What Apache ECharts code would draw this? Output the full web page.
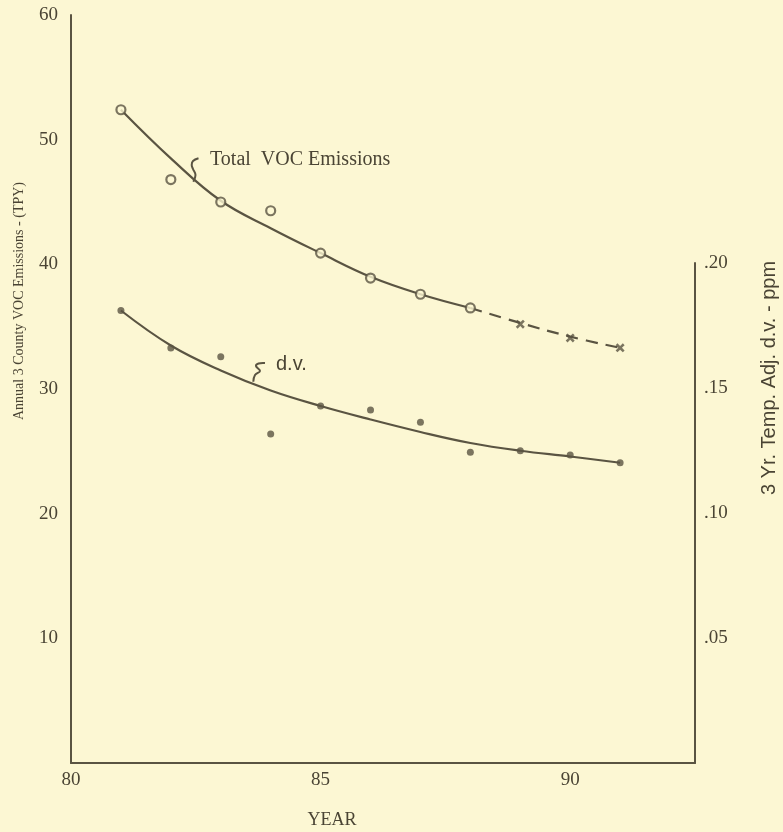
<!DOCTYPE html>
<html>
<head>
<meta charset="utf-8">
<script src="https://cdn.jsdelivr.net/npm/echarts@6/dist/echarts.min.js"></script>
<style>
html,body{margin:0;padding:0;background:#fcf7d3;}
#main{width:783px;height:832px;}
</style>
</head>
<body>
<div id="main"></div>
<script>
// ---- data ----
var years = [81, 82, 83, 84, 85, 86, 87, 88, 89, 90, 91];
// Total VOC emissions (TPY), observed 81-88, projected 89-91
var vocObsYears = [81, 82, 83, 84, 85, 86, 87, 88];
var vocObs = [52.4, 46.8, 45.0, 44.3, 40.9, 38.9, 37.6, 36.5];
var vocProjYears = [89, 90, 91];
var vocProj = [35.2, 34.1, 33.3];
// fitted curve for total VOC (solid part 81-88, dashed part 88-91)
var vocFitYears = [81, 82, 83, 84, 85, 86, 87, 88];
var vocFit = [52.4, 48.5, 45.1, 42.9, 40.9, 39.0, 37.6, 36.5];
var vocFitDashYears = [88, 89, 90, 91];
var vocFitDash = [36.5, 35.3, 34.2, 33.3];
// 3 yr temp adjusted design value (ppm)
var dvObs = [0.181, 0.166, 0.1625, 0.1316, 0.1428, 0.1412, 0.1363, 0.1243, 0.1249, 0.1232, 0.1201];
var dvFit = [0.181, 0.167, 0.157, 0.149, 0.1428, 0.1374, 0.1324, 0.128, 0.1249, 0.1226, 0.1201];
var xTicks = [80, 85, 90];
var leftTicks = [10, 20, 30, 40, 50, 60];
var rightTicks = [0.05, 0.10, 0.15, 0.20];

function pairs(xs, ys){ return xs.map(function(x,i){ return [x, ys[i]]; }); }

var bg = '#fcf7d3';
var ink = '#5a5442';
var txt = '#4a4434';
var serif = '"Liberation Serif", "DejaVu Serif", serif';
var sans = '"Liberation Sans", "DejaVu Sans", sans-serif';

var chart = echarts.init(document.getElementById('main'), null, {renderer:'canvas'});
var xMarker = 'path://M0,2L2,0L5,3L8,0L10,2L7,5L10,8L8,10L5,7L2,10L0,8L3,5Z';

chart.setOption({
  backgroundColor: bg,
  animation: false,
  grid: [
    {left: 71, right: 88, top: 15, bottom: 69},
    {left: 71, right: 88, top: 263, bottom: 69}
  ],
  xAxis: [
    {type:'value', gridIndex:0, min:80, max:92.5, interval:5,
     axisLine:{show:true, lineStyle:{color:ink, width:2}},
     axisTick:{show:false}, splitLine:{show:false},
     axisLabel:{showMaxLabel:false, color:txt, fontFamily:serif, fontSize:19, margin:8,
       formatter:function(v){ return xTicks.indexOf(v) >= 0 ? String(v) : ''; }}},
    {type:'value', gridIndex:1, min:80, max:92.5, show:false}
  ],
  yAxis: [
    {type:'value', gridIndex:0, min:0, max:60, interval:10, position:'left',
     axisLine:{show:true, lineStyle:{color:ink, width:2}},
     axisTick:{show:false}, splitLine:{show:false},
     axisLabel:{color:txt, fontFamily:serif, fontSize:19, margin:13,
       formatter:function(v){ return leftTicks.indexOf(v) >= 0 ? String(v) : ''; }}},
    {type:'value', gridIndex:1, min:0, max:0.2, interval:0.05, position:'right',
     axisLine:{show:true, lineStyle:{color:ink, width:2}},
     axisTick:{show:false}, splitLine:{show:false},
     axisLabel:{color:txt, fontFamily:serif, fontSize:19, margin:9,
       formatter:function(v){
         for (var i=0;i<rightTicks.length;i++){ if (Math.abs(rightTicks[i]-v) < 1e-9) return rightTicks[i].toFixed(2).replace(/^0/,''); }
         return '';
       }}}
  ],
  series: [
    {type:'line', xAxisIndex:0, yAxisIndex:0, data:pairs(vocFitYears, vocFit), smooth:0.4,
     showSymbol:false, lineStyle:{color:ink, width:2.2}, z:2},
    {type:'line', xAxisIndex:0, yAxisIndex:0, data:pairs(vocFitDashYears, vocFitDash), smooth:0.4,
     showSymbol:false, lineStyle:{color:ink, width:2.2, type:[12,8]}, z:2},
    {type:'scatter', xAxisIndex:0, yAxisIndex:0, data:pairs(vocObsYears, vocObs),
     symbol:'circle', symbolSize:9, itemStyle:{color:bg, borderColor:ink, borderWidth:2.2}, z:3},
    {type:'scatter', xAxisIndex:0, yAxisIndex:0, data:pairs(vocProjYears, vocProj),
     symbol:xMarker, symbolSize:9, itemStyle:{color:ink}, z:3},
    {type:'line', xAxisIndex:1, yAxisIndex:1, data:pairs(years, dvFit), smooth:0.4,
     showSymbol:false, lineStyle:{color:ink, width:2.2}, z:2},
    {type:'scatter', xAxisIndex:1, yAxisIndex:1, data:pairs(years, dvObs),
     symbol:'circle', symbolSize:7, itemStyle:{color:ink}, z:3}
  ],
  graphic: [
    {type:'text', x:19, y:301, rotation:Math.PI/2,
     style:{text:'Annual 3 County VOC Emissions - (TPY)', fill:txt, font:'14px ' + serif, textAlign:'center', textVerticalAlign:'middle'}},
    {type:'text', x:769, y:378, rotation:Math.PI/2,
     style:{text:'3 Yr. Temp. Adj. d.v. - ppm', fill:txt, font:'20px ' + sans, textAlign:'center', textVerticalAlign:'middle'}},
    {type:'text', x:332, y:820,
     style:{text:'YEAR', fill:txt, font:'18px ' + serif, textAlign:'center', textVerticalAlign:'middle'}},
    {type:'text', x:210, y:160,
     style:{text:'Total  VOC Emissions', fill:txt, font:'20px ' + serif, textAlign:'left', textVerticalAlign:'middle'}},
    {type:'text', x:276, y:364,
     style:{text:'d.v.', fill:txt, font:'20px ' + sans, textAlign:'left', textVerticalAlign:'middle'}},
    {type:'polyline', shape:{points:[[193.3,181.7],[195.5,175],[193,169],[191.7,165],[193,161],[198.5,158.3]], smooth:0.4},
     style:{fill:null, stroke:ink, lineWidth:2}},
    {type:'polyline', shape:{points:[[253.3,381.7],[255,375],[260,371],[256,366],[258.5,363.5],[265,363]], smooth:0.4},
     style:{fill:null, stroke:ink, lineWidth:2}}
  ]
});
</script>
</body>
</html>
